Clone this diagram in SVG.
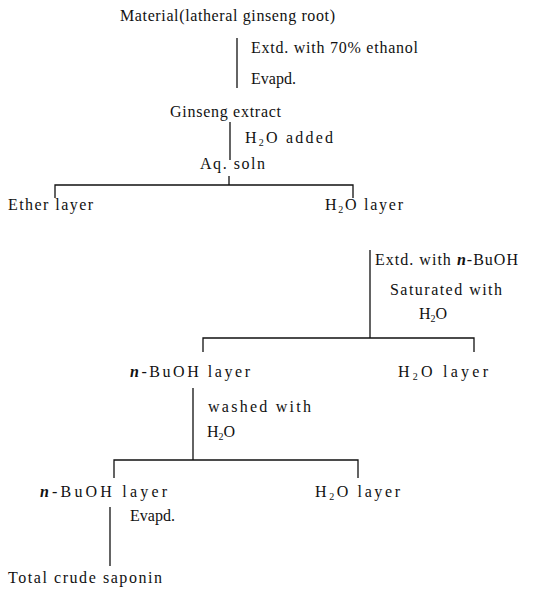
<svg xmlns="http://www.w3.org/2000/svg" width="547" height="589" viewBox="0 0 547 589">
<style>
text{font-family:"Liberation Serif","Times New Roman",serif;font-size:16px;fill:#111}
.sub{font-size:10px}
.it{font-style:italic;font-weight:bold}
.c{stroke:#111;stroke-width:1.3;fill:none}
</style>
<rect width="547" height="589" fill="#fff"/>
<g id="connectors">
<path class="c" d="M237 38V88"/>
<path class="c" d="M230 122V160"/>
<path class="c" d="M229 176V185M55 198V185H353V198"/>
<path class="c" d="M370 250V338M203 352V338H474V352"/>
<path class="c" d="M193 388V460M114 478V460H358V478"/>
<path class="c" d="M110 507V566"/>
</g>
<g id="material"><text x="120" y="21" textLength="215" lengthAdjust="spacing">Material(latheral ginseng root)</text></g>
<g id="step1"><text x="251" y="53" textLength="167" lengthAdjust="spacing">Extd. with 70% ethanol</text>
<text x="251" y="84">Evapd.</text></g>
<g id="extract"><text x="170" y="117" textLength="111" lengthAdjust="spacing">Ginseng extract</text></g>
<g id="step2"><text x="245" y="143" textLength="88" lengthAdjust="spacing">H<tspan class="sub" dy="3">2</tspan><tspan dy="-3">O  added</tspan></text></g>
<g id="aq"><text x="200" y="169" textLength="65" lengthAdjust="spacing">Aq.  soln</text></g>
<g id="ether"><text x="8" y="210" textLength="85" lengthAdjust="spacing">Ether layer</text></g>
<g id="h2o1"><text x="325" y="210" textLength="78" lengthAdjust="spacing">H<tspan class="sub" dy="3">2</tspan><tspan dy="-3">O  layer</tspan></text></g>
<g id="step3"><text x="375" y="265" textLength="143" lengthAdjust="spacing">Extd. with <tspan class="it">n</tspan>-BuOH</text>
<text x="390" y="295" textLength="112" lengthAdjust="spacing">Saturated with</text>
<text x="419" y="319">H<tspan class="sub" dy="3">2</tspan><tspan dy="-3">O</tspan></text></g>
<g id="buoh1"><text x="130" y="377" textLength="120" lengthAdjust="spacing"><tspan class="it">n</tspan>-BuOH  layer</text></g>
<g id="h2o2"><text x="398" y="377" textLength="90" lengthAdjust="spacing">H<tspan class="sub" dy="3">2</tspan><tspan dy="-3">O  layer</tspan></text></g>
<g id="step4"><text x="208" y="412" textLength="103" lengthAdjust="spacing">washed with</text>
<text x="207" y="437">H<tspan class="sub" dy="3">2</tspan><tspan dy="-3">O</tspan></text></g>
<g id="buoh2"><text x="40" y="497" textLength="127" lengthAdjust="spacing"><tspan class="it">n</tspan>-BuOH   layer</text></g>
<g id="h2o3"><text x="315" y="497" textLength="85" lengthAdjust="spacing">H<tspan class="sub" dy="3">2</tspan><tspan dy="-3">O  layer</tspan></text></g>
<g id="step5"><text x="130" y="521">Evapd.</text></g>
<g id="saponin"><text x="8" y="583" textLength="154" lengthAdjust="spacing">Total crude saponin</text></g>
</svg>
